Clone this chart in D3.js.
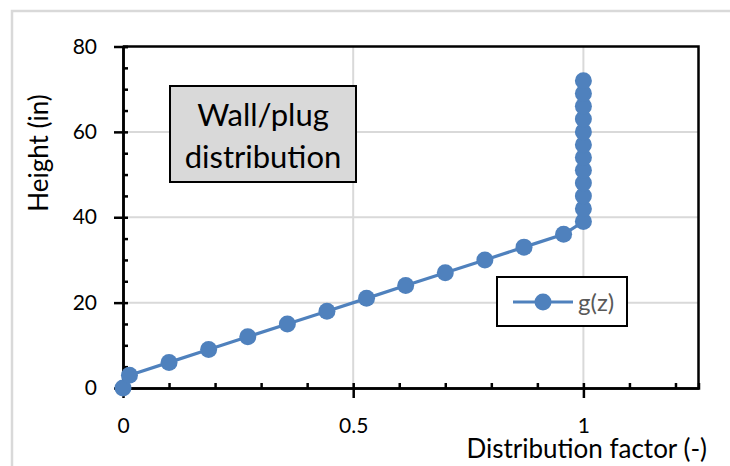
<!DOCTYPE html>
<html>
<head>
<meta charset="utf-8">
<script src="https://cdn.jsdelivr.net/npm/d3@7"></script>
<style>
  body { margin: 0; background: #fff; }
  svg { display: block; font-family: Lato, "Open Sans", sans-serif; }
</style>
</head>
<body>
<div id="wrapper"></div>
<script>
// data
const heights = [0, 3, 6, 9, 12, 15, 18, 21, 24, 27, 30, 33, 36,
  39, 42, 45, 48, 51, 54, 57, 60, 63, 66, 69, 72]
const factors = [0, 0.014, 0.1, 0.186, 0.271, 0.357, 0.443, 0.529, 0.614, 0.7, 0.786, 0.871, 0.957,
  1, 1, 1, 1, 1, 1, 1, 1, 1, 1, 1, 1]
const xTicks = [0, 0.5, 1]
const xMinor = [0.1, 0.2, 0.3, 0.4, 0.6, 0.7, 0.8, 0.9, 1.1, 1.2]
const yTicks = [0, 20, 40, 60, 80]
const yMinor = [5, 10, 15, 25, 30, 35, 45, 50, 55, 65, 70, 75]
const seriesName = "g(z)"

const dataset = heights.map((h, i) => ({ z: h, g: factors[i] }))
const blue = "#4f81bd"

let dimensions = {
  width: 730,
  height: 466,
  margin: { top: 46.5, right: 31.5, bottom: 78, left: 123 },
}
dimensions.boundedWidth = dimensions.width - dimensions.margin.left - dimensions.margin.right
dimensions.boundedHeight = dimensions.height - dimensions.margin.top - dimensions.margin.bottom

const wrapper = d3.select("#wrapper")
  .append("svg")
    .attr("width", dimensions.width)
    .attr("height", dimensions.height)

// chart area frame
wrapper.append("rect")
    .attr("x", 12).attr("y", 11)
    .attr("width", 740).attr("height", 480)
    .attr("fill", "none")
    .attr("stroke", "#d9d9d9")
    .attr("stroke-width", 2.5)

const bounds = wrapper.append("g")
    .attr("transform", `translate(${dimensions.margin.left},${dimensions.margin.top})`)

const xScale = d3.scaleLinear()
  .domain([0, 1.25])
  .range([0, dimensions.boundedWidth])

const yScale = d3.scaleLinear()
  .domain([0, 80])
  .range([dimensions.boundedHeight, 0])

// gridlines
bounds.append("g")
  .selectAll("line")
  .data(xTicks.filter(d => d > 0))
  .join("line")
    .attr("x1", d => xScale(d)).attr("x2", d => xScale(d))
    .attr("y1", 0).attr("y2", dimensions.boundedHeight)
    .attr("stroke", "#d9d9d9").attr("stroke-width", 2)

bounds.append("g")
  .selectAll("line")
  .data(yTicks.filter(d => d > 0 && d < 80))
  .join("line")
    .attr("x1", 0).attr("x2", dimensions.boundedWidth)
    .attr("y1", d => yScale(d)).attr("y2", d => yScale(d))
    .attr("stroke", "#d9d9d9").attr("stroke-width", 2)

// plot frame (top and right)
bounds.append("path")
    .attr("d", `M0,0H${dimensions.boundedWidth}V${dimensions.boundedHeight}`)
    .attr("fill", "none")
    .attr("stroke", "black")
    .attr("stroke-width", 2.5)

// axes
const xAxis = bounds.append("g")
    .attr("transform", `translate(0,${dimensions.boundedHeight})`)
xAxis.append("g")
    .call(d3.axisBottom(xScale).tickValues(xMinor).tickSize(-5).tickFormat(""))
xAxis.append("g")
    .call(d3.axisBottom(xScale).tickValues(xTicks).tickSizeInner(10).tickSizeOuter(0)
      .tickFormat(d3.format("~g")).tickPadding(20))
xAxis.selectAll("line").attr("stroke", "black").attr("stroke-width", 2.5)
xAxis.selectAll(".tick line").filter(function() { return +d3.select(this).attr("y2") > 0 })
    .attr("y1", -5)
xAxis.selectAll(".domain").attr("stroke", "black").attr("stroke-width", 2.5)
xAxis.selectAll("text")
    .attr("fill", "black")
    .style("font-size", "21px")
    .style("font-family", "Lato, sans-serif")

const yAxis = bounds.append("g")
yAxis.append("g")
    .call(d3.axisLeft(yScale).tickValues(yMinor).tickSize(-5).tickFormat(""))
yAxis.append("g")
    .call(d3.axisLeft(yScale).tickValues(yTicks).tickSizeInner(9).tickSizeOuter(0).tickPadding(17))
yAxis.selectAll("line").attr("stroke", "black").attr("stroke-width", 2.5)
yAxis.selectAll(".tick line").filter(function() { return +d3.select(this).attr("x2") < 0 })
    .attr("x1", 5)
yAxis.selectAll(".domain").attr("stroke", "black").attr("stroke-width", 2.5)
yAxis.selectAll("text")
    .attr("fill", "black")
    .style("font-size", "21px")
    .style("font-family", "Lato, sans-serif")

// series
const lineGenerator = d3.line()
  .x(d => xScale(d.g))
  .y(d => yScale(d.z))

bounds.append("path")
    .datum(dataset)
    .attr("d", lineGenerator)
    .attr("fill", "none")
    .attr("stroke", blue)
    .attr("stroke-width", 3.2)

bounds.append("g")
  .selectAll("circle")
  .data(dataset)
  .join("circle")
    .attr("cx", d => xScale(d.g))
    .attr("cy", d => yScale(d.z))
    .attr("r", 8.5)
    .attr("fill", blue)

// text box
const note = wrapper.append("g")
note.append("rect")
    .attr("x", 170).attr("y", 86)
    .attr("width", 186).attr("height", 96)
    .attr("fill", "#d9d9d9")
    .attr("stroke", "black")
    .attr("stroke-width", 2)
note.selectAll("text")
  .data(["Wall/plug", "distribution"])
  .join("text")
    .attr("x", 263)
    .attr("y", (d, i) => 126 + i * 42)
    .attr("text-anchor", "middle")
    .style("font-size", "31px")
    .attr("fill", "black")
    .text(d => d)

// legend
const legend = wrapper.append("g")
legend.append("rect")
    .attr("x", 497).attr("y", 277)
    .attr("width", 130).attr("height", 49)
    .attr("fill", "white")
    .attr("stroke", "black")
    .attr("stroke-width", 2)
legend.append("line")
    .attr("x1", 513).attr("x2", 573)
    .attr("y1", 302).attr("y2", 302)
    .attr("stroke", blue).attr("stroke-width", 3.2)
legend.append("circle")
    .attr("cx", 543).attr("cy", 302).attr("r", 8.5)
    .attr("fill", blue)
legend.append("text")
    .attr("x", 578).attr("y", 311)
    .style("font-size", "24px")
    .attr("fill", "#595959")
    .text(seriesName)

// axis titles
wrapper.append("text")
    .attr("x", 707).attr("y", 458)
    .attr("text-anchor", "end")
    .style("font-size", "26px")
    .attr("fill", "black")
    .text("Distribution factor (-)")

wrapper.append("text")
    .attr("transform", "translate(48,153) rotate(-90)")
    .attr("text-anchor", "middle")
    .style("font-size", "26px")
    .attr("fill", "black")
    .text("Height (in)")
</script>
</body>
</html>
